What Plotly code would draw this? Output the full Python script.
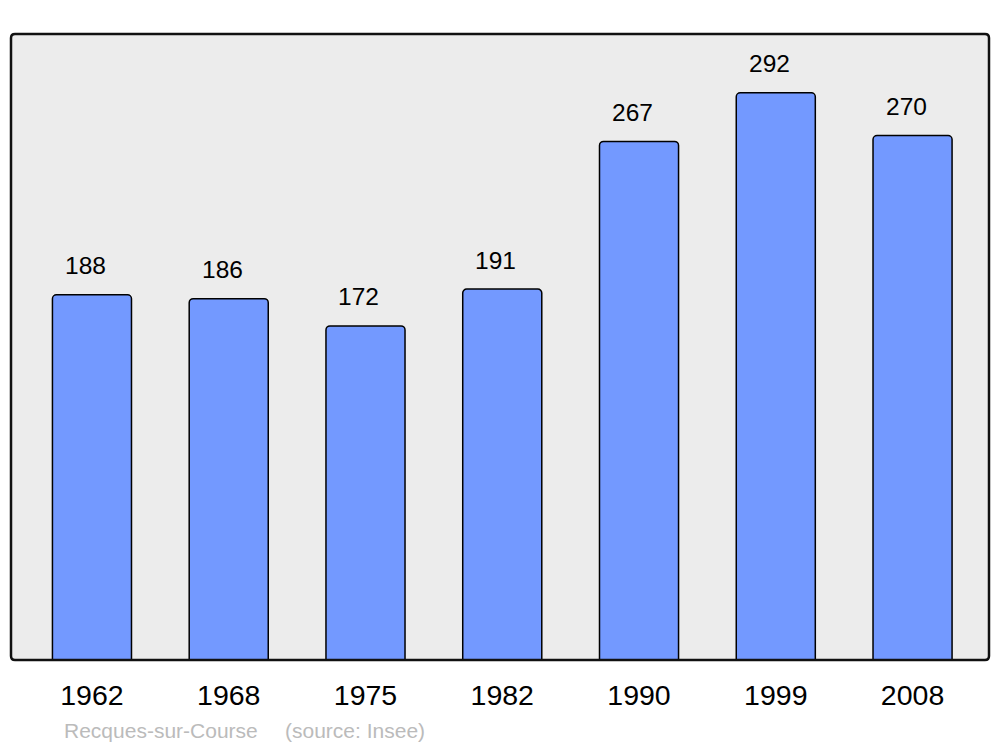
import plotly.graph_objects as go

years = ["1962", "1968", "1975", "1982", "1990", "1999", "2008"]
population = [188, 186, 172, 191, 267, 292, 270]
place = "Recques-sur-Course"
source = "(source: Insee)"

FONT = "Liberation Sans, Arial, sans-serif"
W, H = 1000, 747
L, R, T, B = 11, 11, 34, 87
pw, ph = W - L - R, H - T - B

idx = list(range(len(years)))

fig = go.Figure()
fig.add_trace(go.Bar(
    x=idx, y=population, width=0.578,
    marker=dict(color="#7399FF", line=dict(color="#000000", width=1.5), cornerradius=4),
    hoverinfo="skip",
))

for i, v in zip(idx, population):
    fig.add_annotation(x=i, y=v, text=str(v), showarrow=False, yshift=29, xshift=-6.5,
                       yanchor="middle", font=dict(family=FONT, size=24.5, color="#000000"))

rx, ry = 4 / pw, 4 / ph
path = (f"M {rx},0 L {1-rx},0 Q 1,0 1,{ry} L 1,{1-ry} Q 1,1 {1-rx},1 "
        f"L {rx},1 Q 0,1 0,{1-ry} L 0,{ry} Q 0,0 {rx},0 Z")
fig.add_shape(type="path", path=path, xref="paper", yref="paper",
              fillcolor="#ECECEC", line=dict(width=0), layer="below")
fig.add_shape(type="path", path=path, xref="paper", yref="paper",
              fillcolor="rgba(0,0,0,0)", line=dict(color="#111111", width=2.5), layer="above")

fig.add_annotation(x=(62 - L) / pw, y=(660 - 730) / ph, xref="paper", yref="paper",
                   text=place, showarrow=False, xanchor="left", yanchor="middle",
                   font=dict(family=FONT, size=21, color="#BBBBBB"))
fig.add_annotation(x=(283 - L) / pw, y=(660 - 730) / ph, xref="paper", yref="paper",
                   text=source, showarrow=False, xanchor="left", yanchor="middle",
                   font=dict(family=FONT, size=21, color="#BBBBBB"))

fig.update_layout(
    width=W, height=H,
    margin=dict(l=L, r=R, t=T, b=B),
    paper_bgcolor="#FFFFFF", plot_bgcolor="rgba(0,0,0,0)",
    showlegend=False,
    xaxis=dict(range=[-0.592, 6.559], tickvals=idx, ticktext=years, showgrid=False,
               zeroline=False, showline=False, ticks="", ticklabelstandoff=15,
               tickfont=dict(family=FONT, size=28.5, color="#000000"), fixedrange=True),
    yaxis=dict(range=[0, 322.3], showgrid=False, zeroline=False, showline=False,
               showticklabels=False, ticks="", fixedrange=True),
)

fig.write_html("out.html", config={"displayModeBar": False},
               post_script="document.body.style.margin='0';document.body.style.overflow='hidden';")
